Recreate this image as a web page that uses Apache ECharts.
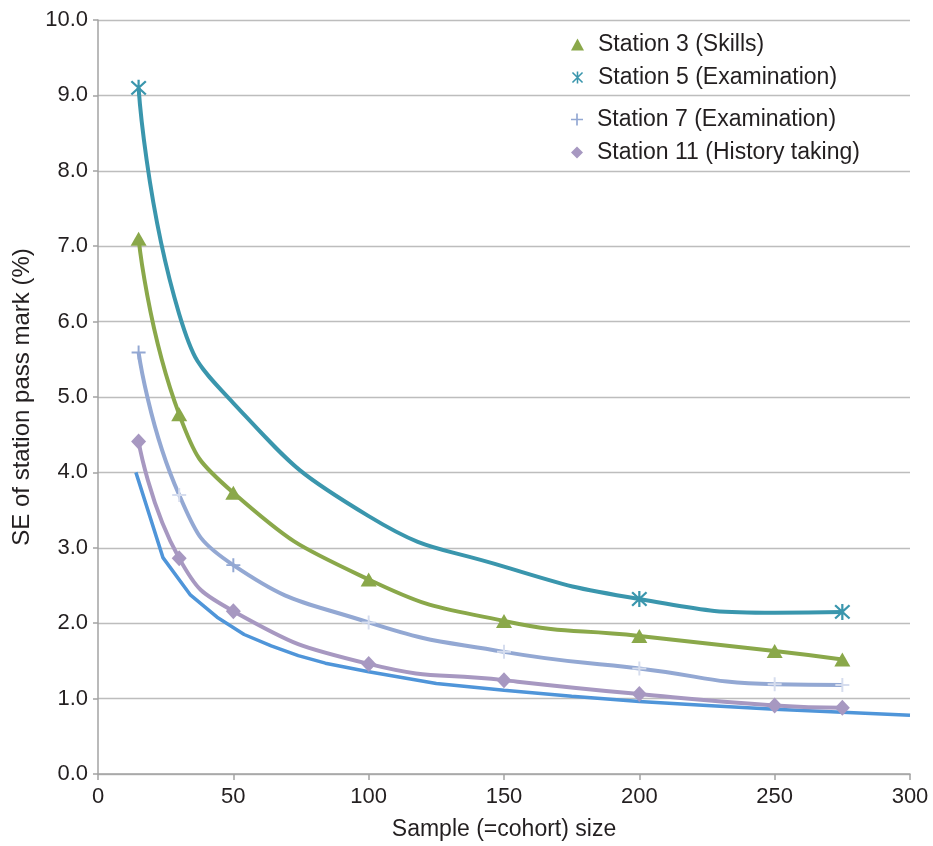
<!DOCTYPE html>
<html>
<head>
<meta charset="utf-8">
<script src="https://cdn.jsdelivr.net/npm/echarts@6/dist/echarts.min.js"></script>
<style>
  html, body { margin: 0; padding: 0; background: #fff; }
  #chart { width: 933px; height: 846px; }
</style>
</head>
<body>
<div id="chart"></div>
<script>
// ---- data ----
const sampleSizes = [15, 30, 50, 100, 150, 200, 250, 275];
const station3 = [7.1, 4.77, 3.73, 2.58, 2.03, 1.83, 1.63, 1.52];
const station5 = [9.1, 6.1, 4.92, 3.42, 2.75, 2.32, 2.14, 2.15];
const station7 = [5.59, 3.70, 2.77, 2.01, 1.62, 1.40, 1.19, 1.18];
const station11 = [4.41, 2.86, 2.16, 1.46, 1.245, 1.06, 0.91, 0.88];
const refSizes = [14, 24, 34, 44, 54, 64, 74, 84, 100, 125, 150, 175, 200, 225, 250, 275, 300];
const refValues = [4.0, 2.87, 2.38, 2.08, 1.85, 1.70, 1.57, 1.47, 1.355, 1.20, 1.11, 1.03, 0.96, 0.91, 0.86, 0.82, 0.78];
const seriesNames = ['Station 3 (Skills)', 'Station 5 (Examination)', 'Station 7 (Examination)', 'Station 11 (History taking)'];
const xAxisTitle = 'Sample (=cohort) size';
const yAxisTitle = 'SE of station pass mark (%)';

// ---- styling ----
const FONT = "'Liberation Sans', Arial, sans-serif";
const TXT = '#231f20';
const C3 = '#8aa84a', C5 = '#3a96ad', C7 = '#93a8d3', C11 = '#a798c1', CREF = '#4f95d9';
const plusPath = 'path://M4.3,0H5.7V4.3H10V5.7H5.7V10H4.3V5.7H0V4.3H4.3Z';
const asteriskPath = 'path://M4.35,0H5.65V10H4.35Z M1.26,0.34L9.66,8.74L8.74,9.66L0.34,1.26Z M8.74,0.34L9.66,1.26L1.26,9.66L0.34,8.74Z';
const station5MarkerIdx = [0, 5, 7];
const station7VisibleIdx = [0, 2];

function pairs(xs, ys) { return xs.map((x, i) => [x, ys[i]]); }

const s5data = sampleSizes.map((x, i) => station5MarkerIdx.includes(i)
  ? { value: [x, station5[i]] }
  : { value: [x, station5[i]], symbol: 'none' });
const s7data = sampleSizes.map((x, i) => station7VisibleIdx.includes(i)
  ? { value: [x, station7[i]] }
  : { value: [x, station7[i]], itemStyle: { color: '#d6ddee' } });

const legendText = { fontSize: 23, color: TXT, fontFamily: FONT, lineHeight: 23, padding: [0, 0, 0, 9] };

const option = {
  animation: false,
  backgroundColor: '#fff',
  grid: { left: 98, right: 23, top: 20, bottom: 71, containLabel: false },
  legend: [
    {
      orient: 'vertical', left: 566, top: 28, itemWidth: 13, itemHeight: 12, itemGap: 10,
      textStyle: legendText,
      data: [{ name: seriesNames[0], icon: 'triangle' }, { name: seriesNames[1], icon: asteriskPath }]
    },
    {
      orient: 'vertical', left: 566, top: 103, itemWidth: 12, itemHeight: 12, itemGap: 10,
      textStyle: legendText,
      data: [{ name: seriesNames[2], icon: plusPath }, { name: seriesNames[3], icon: 'diamond' }]
    }
  ],
  xAxis: {
    type: 'value', min: 0, max: 300, interval: 50,
    name: xAxisTitle, nameLocation: 'middle', nameGap: 44,
    nameTextStyle: { fontSize: 23, color: TXT, fontFamily: FONT },
    axisLine: { show: true, lineStyle: { color: '#a3a3a3', width: 1.5 } },
    axisTick: { show: true, length: 6, lineStyle: { color: '#a3a3a3', width: 1.5 } },
    axisLabel: { fontSize: 22, color: TXT, fontFamily: FONT, margin: 12 },
    splitLine: { show: false }
  },
  yAxis: {
    type: 'value', min: 0, max: 10, interval: 1,
    name: yAxisTitle, nameLocation: 'middle', nameGap: 57, nameRotate: 90,
    nameTextStyle: { fontSize: 24, color: TXT, fontFamily: FONT },
    axisLine: { show: true, lineStyle: { color: '#a3a3a3', width: 1.5 } },
    axisTick: { show: true, length: 5, lineStyle: { color: '#a3a3a3', width: 1.5 } },
    axisLabel: { fontSize: 22, color: TXT, fontFamily: FONT, margin: 10, formatter: v => v.toFixed(1) },
    splitLine: { show: true, lineStyle: { color: '#bdbdbd', width: 1.3 } }
  },
  series: [
    {
      name: 'reference', type: 'line', data: pairs(refSizes, refValues), smooth: false,
      showSymbol: false, symbol: 'none', lineStyle: { color: CREF, width: 3.5 }, itemStyle: { color: CREF }, z: 1
    },
    {
      name: seriesNames[3], type: 'line', data: pairs(sampleSizes, station11), smooth: 0.5,
      symbol: 'diamond', symbolSize: [15, 16], lineStyle: { color: C11, width: 4 }, itemStyle: { color: C11 }, z: 2
    },
    {
      name: seriesNames[2], type: 'line', data: s7data, smooth: 0.5,
      symbol: plusPath, symbolSize: 14, lineStyle: { color: C7, width: 4 }, itemStyle: { color: C7 }, z: 3
    },
    {
      name: seriesNames[0], type: 'line', data: pairs(sampleSizes, station3), smooth: 0.5,
      symbol: 'triangle', symbolSize: [16, 14], lineStyle: { color: C3, width: 4 }, itemStyle: { color: C3 }, z: 4
    },
    {
      name: seriesNames[1], type: 'line', data: s5data, smooth: 0.5,
      symbol: asteriskPath, symbolSize: 16, lineStyle: { color: C5, width: 4 }, itemStyle: { color: C5 }, z: 5
    }
  ]
};

const chart = echarts.init(document.getElementById('chart'), null, { renderer: 'canvas' });
chart.setOption(option);
</script>
</body>
</html>
